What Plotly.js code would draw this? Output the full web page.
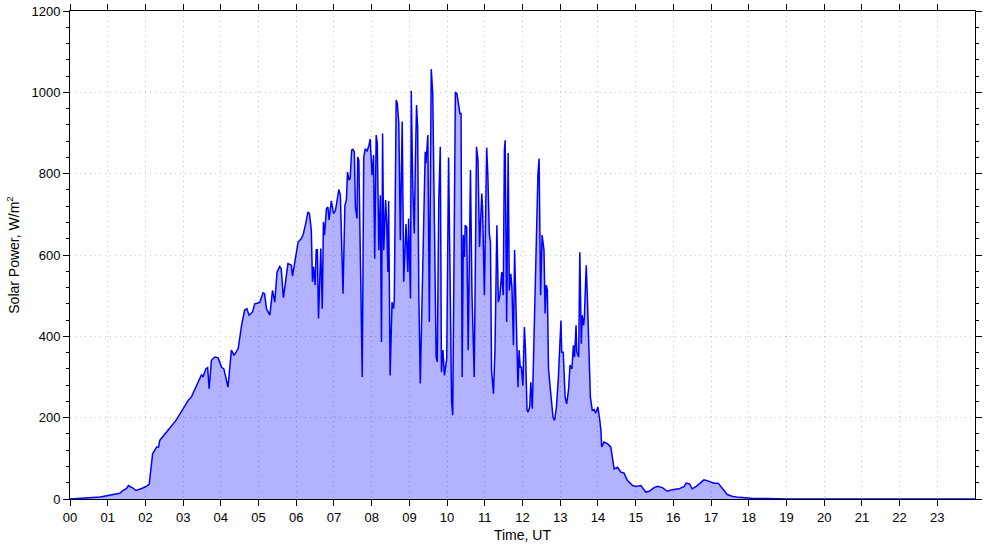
<!DOCTYPE html>
<html>
<head>
<meta charset="utf-8">
<script src="https://cdn.plot.ly/plotly-3.0.1.min.js"></script>
<style>html,body{margin:0;padding:0;background:#fff;}#chart{width:985px;height:547px;}</style>
</head>
<body>
<div id="chart"></div>
<script>
const timeHours = [0.00,0.2,0.4,0.6,0.8,0.97,1.1,1.25,1.32,1.42,1.5,1.55,1.62,1.67,1.75,1.83,1.9,2.0,2.1,2.19,2.25,2.3,2.35,2.38,2.5,2.65,2.8,2.91,3.0,3.13,3.22,3.3,3.4,3.49,3.53,3.6,3.65,3.69,3.75,3.84,3.93,4.02,4.08,4.19,4.28,4.35,4.46,4.55,4.63,4.69,4.75,4.84,4.9,4.99,5.03,5.12,5.16,5.21,5.3,5.37,5.43,5.49,5.56,5.6,5.66,5.78,5.87,5.9,5.96,6.05,6.13,6.18,6.25,6.31,6.35,6.4,6.43,6.46,6.5,6.53,6.56,6.59,6.65,6.69,6.72,6.75,6.8,6.84,6.87,6.93,6.99,7.04,7.13,7.17,7.24,7.29,7.33,7.36,7.4,7.43,7.47,7.5,7.54,7.57,7.61,7.63,7.66,7.75,7.79,7.83,7.88,7.93,7.96,7.99,8.01,8.05,8.08,8.12,8.15,8.19,8.23,8.26,8.29,8.32,8.37,8.4,8.43,8.45,8.49,8.54,8.58,8.6,8.65,8.68,8.72,8.76,8.81,8.85,8.89,8.91,8.96,8.98,9.03,9.05,9.09,9.13,9.16,9.19,9.22,9.25,9.29,9.35,9.42,9.44,9.49,9.53,9.58,9.62,9.66,9.71,9.74,9.78,9.82,9.85,9.89,9.93,9.99,10.04,10.12,10.15,10.22,10.26,10.3,10.34,10.37,10.4,10.43,10.46,10.48,10.52,10.56,10.62,10.66,10.72,10.78,10.82,10.86,10.92,10.94,10.99,11.05,11.08,11.12,11.15,11.18,11.23,11.27,11.32,11.36,11.4,11.45,11.49,11.52,11.54,11.58,11.62,11.65,11.69,11.72,11.76,11.79,11.83,11.88,11.91,11.94,11.97,12.01,12.05,12.08,12.12,12.15,12.19,12.22,12.26,12.32,12.38,12.41,12.44,12.48,12.52,12.57,12.6,12.63,12.66,12.69,12.75,12.81,12.85,12.9,12.95,13.02,13.04,13.08,13.13,13.17,13.22,13.26,13.31,13.35,13.38,13.42,13.44,13.49,13.52,13.56,13.58,13.62,13.64,13.69,13.72,13.77,13.8,13.85,13.9,13.94,14.0,14.05,14.08,14.1,14.16,14.25,14.34,14.43,14.52,14.61,14.69,14.78,14.92,15.01,15.14,15.27,15.36,15.49,15.58,15.71,15.84,15.97,16.15,16.29,16.34,16.43,16.5,16.61,16.72,16.81,16.94,17.07,17.19,17.3,17.43,17.56,17.74,17.92,18.1,18.5,19.0,20.0,21.0,22.0,23.0,24.0];
const solarPower = [0,1,2,3,5,8,10,12,14,22,26,33,30,27,21,23,26,30,36,111,120,128,128,144,158,175,192,208,222,242,251,268,288,306,300,320,323,271,341,349,347,324,320,275,366,353,370,427,464,468,452,460,480,482,483,507,505,468,452,513,484,558,572,567,495,579,575,548,583,632,640,649,677,706,702,661,534,571,526,613,613,444,616,468,681,649,714,718,686,733,702,710,761,747,505,722,735,804,784,788,858,860,854,718,690,841,833,300,841,860,856,870,885,809,796,846,591,895,874,612,747,386,899,612,735,677,558,733,304,484,468,489,981,973,924,636,928,534,636,676,558,690,493,1004,768,653,833,969,915,505,284,513,854,825,895,435,1057,997,665,349,337,735,866,312,366,304,345,840,240,206,1001,997,973,948,948,300,649,595,673,669,366,809,505,300,866,833,620,751,718,501,864,800,653,632,316,259,366,673,484,501,558,501,858,882,435,851,513,554,521,378,612,456,275,366,324,324,279,423,366,218,214,226,287,222,464,759,800,837,501,649,612,456,526,513,320,259,201,193,226,296,439,361,361,251,234,267,329,320,378,349,427,361,349,607,382,452,427,447,575,497,300,251,218,220,211,226,193,169,128,140,136,128,74,78,66,64,46,33,31,33,17,19,28,31,28,19,23,25,31,39,37,25,31,41,47,44,39,39,25,11,7,4,3,1,1,0,0,0,0,0,0];
const tickHours = [0,1,2,3,4,5,6,7,8,9,10,11,12,13,14,15,16,17,18,19,20,21,22,23];
const tickLabels = ["00","01","02","03","04","05","06","07","08","09","10","11","12","13","14","15","16","17","18","19","20","21","22","23"];

const trace = {
  x: timeHours, y: solarPower, type: 'scatter', mode: 'lines',
  line: {color: '#0000ff', width: 1.5},
  fill: 'tozeroy', fillcolor: 'rgba(0,0,255,0.3)',
  hoverinfo: 'x+y'
};
const font = {family: '"Liberation Sans", Arial, sans-serif', size: 13, color: '#000'};
const layout = {
  width: 985, height: 547,
  margin: {l: 70, r: 10, t: 11, b: 48},
  paper_bgcolor: '#fff', plot_bgcolor: '#fff',
  font: font, showlegend: false,
  xaxis: {
    range: [0, 24], tickvals: tickHours, ticktext: tickLabels,
    ticks: 'outside', ticklen: 6, tickwidth: 1, tickcolor: '#000',
    showline: true, linecolor: '#000', linewidth: 1, mirror: 'allticks',
    showgrid: true, gridcolor: '#c4c4c4', griddash: '1px,4px', gridwidth: 1,
    zeroline: false, tickfont: font,
    title: {text: 'Time, UT', font: {family: font.family, size: 14, color: '#000'}, standoff: 6}
  },
  yaxis: {
    range: [0, 1200], dtick: 200, tick0: 0,
    ticks: 'outside', ticklen: 6, tickwidth: 1, tickcolor: '#000',
    minor: {dtick: 40, ticks: 'outside', ticklen: 3, tickcolor: '#000', showgrid: false},
    showline: true, linecolor: '#000', linewidth: 1, mirror: 'allticks',
    showgrid: true, gridcolor: '#c4c4c4', griddash: '1px,4px', gridwidth: 1,
    zeroline: false, tickfont: font,
    title: {text: 'Solar Power, W/m<sup>2</sup>', font: {family: font.family, size: 14, color: '#000'}, standoff: 8}
  }
};
Plotly.newPlot('chart', [trace], layout, {displayModeBar: false, staticPlot: true});
</script>
</body>
</html>
